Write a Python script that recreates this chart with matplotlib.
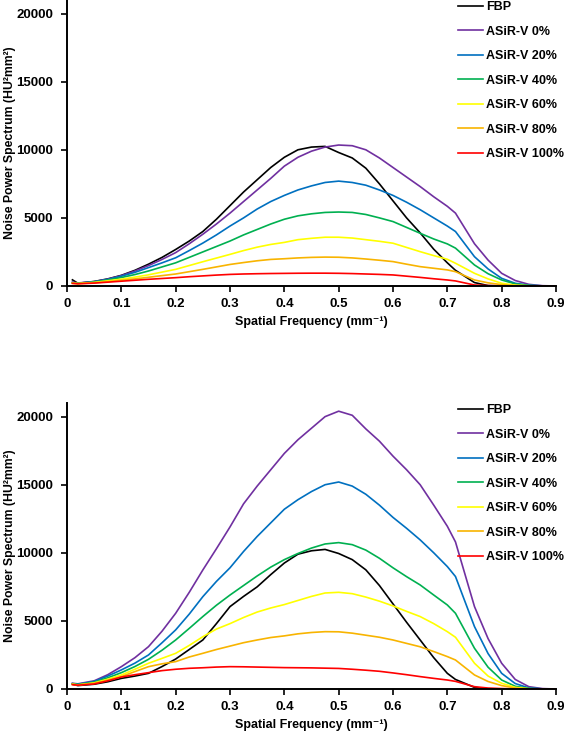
import numpy as np
import matplotlib
matplotlib.use("Agg")
import matplotlib.pyplot as plt

plt.rcParams['font.family'] = ['Liberation Sans', 'DejaVu Sans']
plt.rcParams['font.weight'] = 'bold'

# spatial frequency (mm^-1)
freq = [0.01, 0.02, 0.05, 0.075, 0.1, 0.125, 0.15, 0.175, 0.2, 0.225, 0.25, 0.275,
        0.3, 0.325, 0.35, 0.375, 0.4, 0.425, 0.45, 0.475, 0.5, 0.525, 0.55, 0.575,
        0.6, 0.625, 0.65, 0.675, 0.7, 0.715, 0.75, 0.775, 0.8, 0.825, 0.85, 0.875, 0.9]

labels = ['FBP', 'ASiR-V 0%', 'ASiR-V 20%', 'ASiR-V 40%', 'ASiR-V 60%', 'ASiR-V 80%', 'ASiR-V 100%']
colors = ['black', '#7030A0', '#0070C0', '#00B050', '#FFFF00', '#F8B400', '#FF0000']

# top panel NPS (HU^2 mm^2)
top_fbp = [450, 200, 330, 520, 780, 1150, 1600, 2100, 2680, 3300, 4000, 4900,
           5900, 6900, 7800, 8700, 9450, 10000, 10200, 10250, 9800, 9400, 8650, 7500,
           6250, 5000, 3900, 2700, 1700, 1150, 250, 30, 0, 0, 0, 0, 0]
top_0 = [280, 220, 320, 500, 760, 1100, 1500, 1950, 2450, 3100, 3800, 4550,
         5350, 6200, 7050, 7900, 8800, 9450, 9900, 10200, 10350, 10300, 10000, 9400,
         8700, 8000, 7300, 6550, 5850, 5350, 3100, 1900, 930, 400, 120, 20, 0]
top_20 = [250, 200, 310, 480, 720, 1000, 1350, 1700, 2070, 2600, 3150, 3750,
          4400, 5000, 5650, 6200, 6650, 7050, 7350, 7600, 7700, 7600, 7400, 7050,
          6650, 6150, 5600, 5000, 4400, 4000, 2150, 1250, 560, 200, 50, 10, 0]
top_40 = [230, 190, 290, 440, 620, 840, 1100, 1400, 1700, 2100, 2500, 2900,
          3300, 3750, 4150, 4550, 4900, 5150, 5300, 5400, 5430, 5400, 5250, 5000,
          4730, 4300, 3870, 3450, 3090, 2780, 1540, 900, 440, 150, 40, 5, 0]
top_60 = [210, 180, 260, 380, 500, 650, 820, 1020, 1220, 1500, 1780, 2050,
          2320, 2600, 2850, 3050, 3200, 3400, 3500, 3580, 3580, 3520, 3400, 3280,
          3140, 2830, 2520, 2230, 1960, 1670, 930, 520, 200, 60, 15, 0, 0]
top_80 = [200, 170, 230, 320, 420, 520, 640, 760, 880, 1050, 1220, 1400,
          1580, 1720, 1850, 1950, 2000, 2060, 2100, 2120, 2110, 2060, 1980, 1890,
          1790, 1600, 1420, 1300, 1180, 1050, 440, 230, 100, 30, 5, 0, 0]
top_100 = [190, 160, 210, 280, 350, 420, 490, 550, 610, 680, 740, 800,
           850, 880, 900, 915, 925, 935, 940, 940, 930, 910, 880, 850,
           810, 720, 630, 530, 440, 370, 70, 30, 10, 0, 0, 0, 0]

# bottom panel NPS (HU^2 mm^2)
bot_fbp = [350, 250, 350, 530, 780, 950, 1150, 1650, 2200, 2900, 3600, 4800,
           6050, 6800, 7500, 8400, 9250, 9900, 10150, 10250, 9950, 9500, 8750, 7600,
           6250, 4900, 3600, 2300, 1150, 700, 120, 10, 0, 0, 0, 0, 0]
bot_0 = [420, 380, 600, 1050, 1640, 2300, 3110, 4250, 5560, 7100, 8740, 10300,
         11900, 13600, 14900, 16100, 17300, 18300, 19150, 20000, 20400, 20100, 19100, 18200,
         17100, 16100, 15000, 13500, 11950, 10800, 6050, 3700, 1890, 700, 170, 30, 0]
bot_20 = [400, 350, 550, 950, 1400, 1900, 2500, 3400, 4340, 5500, 6780, 7900,
          8900, 10100, 11200, 12200, 13200, 13900, 14500, 15000, 15200, 14900, 14300, 13500,
          12600, 11800, 10950, 10000, 8990, 8260, 4580, 2600, 1150, 400, 80, 10, 0]
bot_40 = [380, 330, 500, 820, 1200, 1650, 2180, 2850, 3600, 4450, 5320, 6150,
          6900, 7600, 8300, 8950, 9500, 9950, 10350, 10650, 10750, 10600, 10200, 9600,
          8900, 8250, 7640, 6900, 6170, 5560, 2990, 1600, 660, 200, 40, 5, 0]
bot_60 = [360, 300, 450, 720, 1030, 1450, 1890, 2250, 2620, 3200, 3840, 4400,
          4800, 5250, 5650, 5950, 6200, 6500, 6800, 7050, 7100, 7000, 6750, 6450,
          6100, 5700, 5320, 4800, 4210, 3800, 1890, 950, 420, 120, 20, 0, 0]
bot_80 = [340, 290, 420, 650, 910, 1280, 1640, 1850, 2010, 2350, 2620, 2900,
          3150, 3400, 3600, 3780, 3900, 4050, 4150, 4210, 4200, 4100, 3950, 3800,
          3600, 3350, 3100, 2750, 2380, 2130, 1030, 550, 250, 70, 10, 0, 0]
bot_100 = [320, 280, 370, 600, 880, 1050, 1200, 1350, 1450, 1520, 1560, 1610,
           1640, 1630, 1610, 1590, 1570, 1560, 1550, 1530, 1510, 1450, 1380, 1300,
           1180, 1050, 910, 780, 660, 560, 170, 70, 30, 5, 0, 0, 0]

top_series = [top_fbp, top_0, top_20, top_40, top_60, top_80, top_100]
bot_series = [bot_fbp, bot_0, bot_20, bot_40, bot_60, bot_80, bot_100]

fig = plt.figure(figsize=(5.64, 7.38), dpi=100)
ax1 = fig.add_axes([0.1188, 0.6125, 0.867, 0.3875])
ax2 = fig.add_axes([0.1188, 0.0664, 0.867, 0.3875])

for ax, series in [(ax1, top_series), (ax2, bot_series)]:
    for y, lab, c in zip(series, labels, colors):
        ax.plot(freq, y, color=c, lw=1.2, label=lab)
    ax.set_xlim(0, 0.9)
    ax.set_ylim(0, 21000)
    ax.set_xticks(np.arange(0, 0.91, 0.1))
    ax.set_xticklabels(['0', '0.1', '0.2', '0.3', '0.4', '0.5', '0.6', '0.7', '0.8', '0.9'])
    ax.set_yticks([0, 5000, 10000, 15000, 20000])
    ax.tick_params(direction='out', length=4, width=1.2, labelsize=9.5)
    ax.tick_params(axis='y', pad=6)
    ax.tick_params(axis='x', pad=5)
    for s in ['top', 'right']:
        ax.spines[s].set_visible(False)
    for s in ['left', 'bottom']:
        ax.spines[s].set_linewidth(1.4)
    ax.set_xlabel('Spatial Frequency (mm⁻¹)', fontsize=9, fontweight='bold')
    ax.set_ylabel('Noise Power Spectrum (HU²mm²)', fontsize=8.8, fontweight='bold')
    ax.xaxis.set_label_coords(0.5, -0.105)
    ax.yaxis.set_label_coords(-0.105, 0.5)
    ax.legend(loc='upper left', bbox_to_anchor=(0.80, 0.996), frameon=False,
              fontsize=9, handlelength=2.0, handletextpad=0.2, labelspacing=1.0,
              borderaxespad=0, borderpad=0)

fig.savefig('out.png', dpi=100)
